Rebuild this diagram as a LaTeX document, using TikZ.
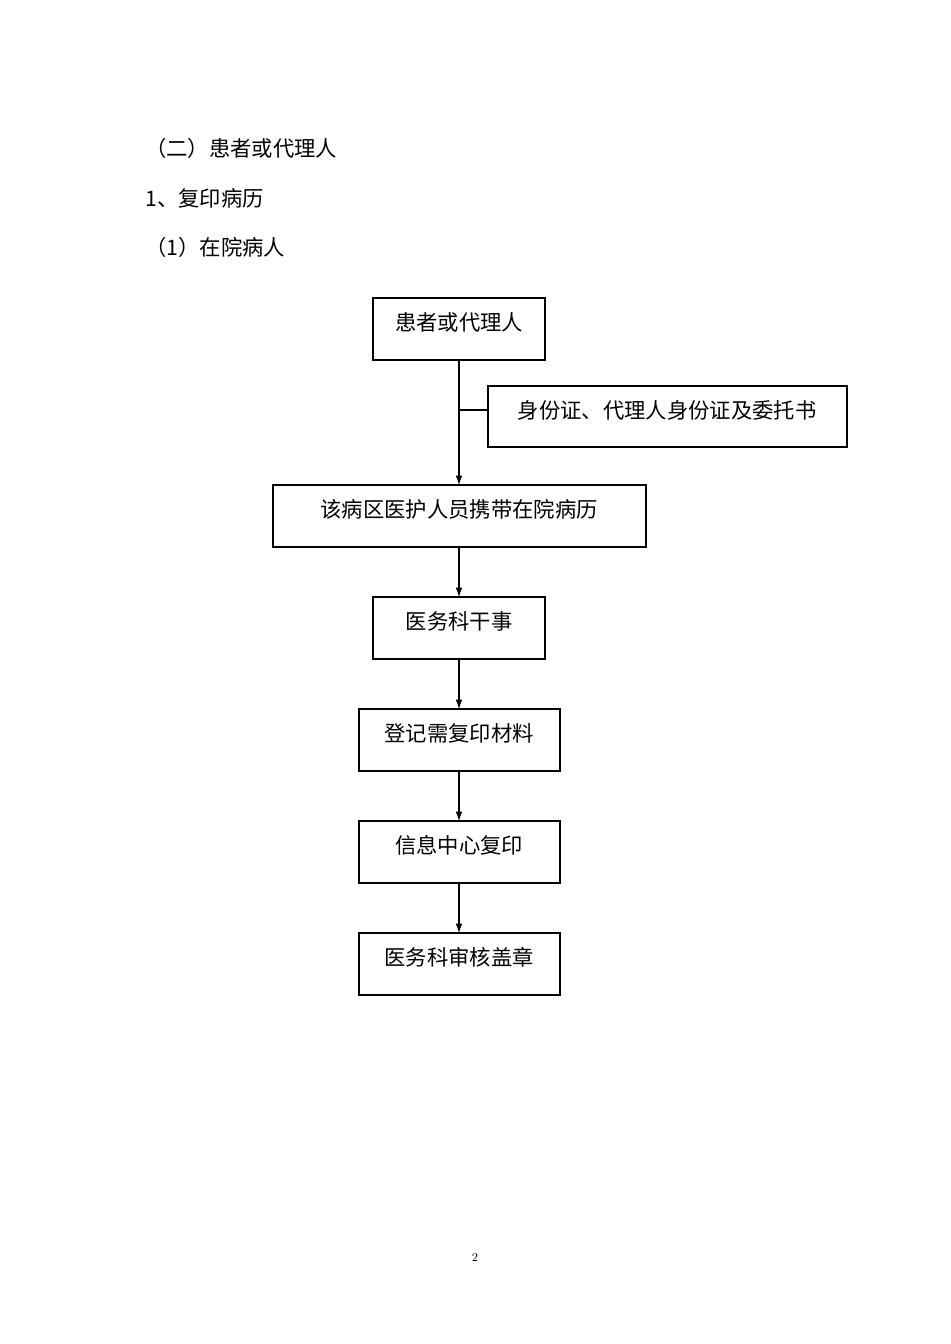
\documentclass[tikz,border=0pt]{standalone}
\usepackage{fontspec}
\newfontfamily\cjk{Noto Sans CJK SC}
\usetikzlibrary{arrows.meta}
\begin{document}
\begin{tikzpicture}[x=0.75pt,y=-0.75pt,
  box/.style={draw,line width=0.8pt},
  lbl/.style={font=\cjk\fontsize{16}{18}\selectfont,inner sep=0pt},
  head/.style={font=\cjk\fontsize{16}{18}\selectfont,anchor=west,inner sep=0pt},
  arr/.style={-{Latex[length=7pt,width=5pt]},line width=0.8pt}]
\useasboundingbox (0,0) rectangle (950,1344);
\node[head] (h1) at (145,148) {（二）患者或代理人};
\node[head] (h2) at (145,198) {1、复印病历};
\node[head] (h3) at (145,247) {（1）在院病人};
\draw[box] (373,298) rectangle (545,360);
\node[lbl] (t1) at (459,322) {患者或代理人};
\draw[box] (488,386) rectangle (847,447);
\node[lbl] (t2) at (667,410) {身份证、代理人身份证及委托书};
\draw[box] (273,485) rectangle (646,547);
\node[lbl] (t3) at (459,509) {该病区医护人员携带在院病历};
\draw[box] (373,597) rectangle (545,659);
\node[lbl] (t4) at (459,621) {医务科干事};
\draw[box] (359,709) rectangle (560,771);
\node[lbl] (t5) at (459,733) {登记需复印材料};
\draw[box] (359,821) rectangle (560,883);
\node[lbl] (t6) at (459,845) {信息中心复印};
\draw[box] (359,933) rectangle (560,995);
\node[lbl] (t7) at (459,957) {医务科审核盖章};
\coordinate (b1) at (459,360); \coordinate (a3) at (459,485);
\coordinate (br) at (459,410); \coordinate (bl) at (488,410);
\draw[arr] (b1) -- (a3);
\draw[line width=0.8pt] (br) -- (bl);
\coordinate (b3) at (459,547); \coordinate (a4) at (459,597);
\coordinate (b4) at (459,659); \coordinate (a5) at (459,709);
\coordinate (b5) at (459,771); \coordinate (a6) at (459,821);
\coordinate (b6) at (459,883); \coordinate (a7) at (459,933);
\draw[arr] (b3) -- (a4);
\draw[arr] (b4) -- (a5);
\draw[arr] (b5) -- (a6);
\draw[arr] (b6) -- (a7);
\node[font=\fontsize{9}{10}\selectfont] (pg) at (475,1257) {2};
\end{tikzpicture}
\end{document}
